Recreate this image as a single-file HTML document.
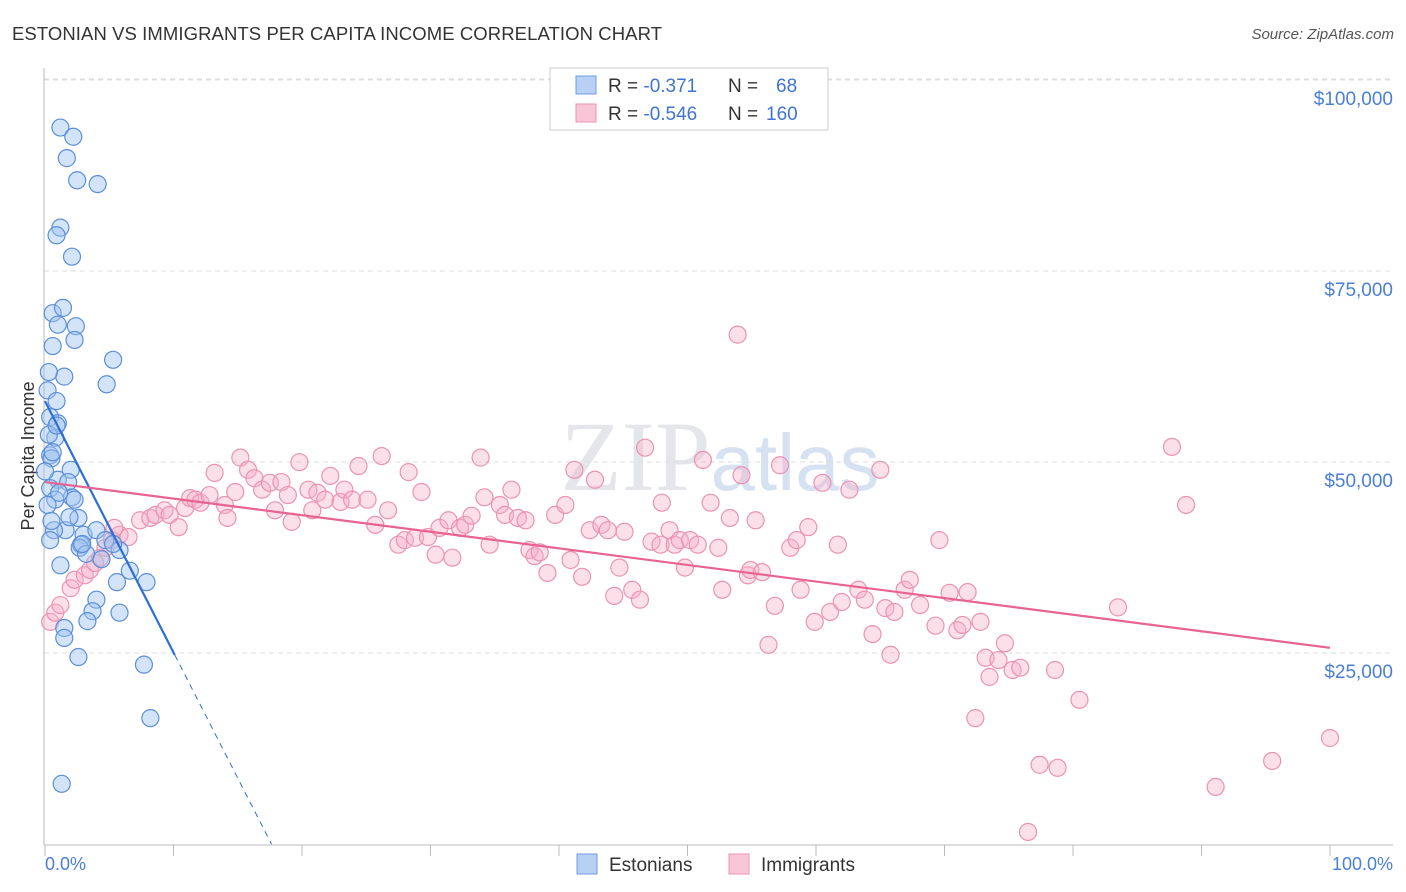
<!DOCTYPE html>
<html><head><meta charset="utf-8"><style>
body{margin:0;background:#fff;font-family:"Liberation Sans",sans-serif;}
#wrap{position:relative;width:1406px;height:892px;overflow:hidden;}
</style></head><body>
<div id="wrap">
<svg id="svg" width="1406" height="892" xmlns="http://www.w3.org/2000/svg">
<text x="12" y="40" font-size="18.5" fill="#333" textLength="650">ESTONIAN VS IMMIGRANTS PER CAPITA INCOME CORRELATION CHART</text>
<text x="1394" y="39" font-size="15" fill="#555" font-style="italic" text-anchor="end">Source: ZipAtlas.com</text>
<text x="720" y="490" font-size="100" fill="#e4e6ea" text-anchor="middle" font-family="Liberation Serif,serif">ZIP<tspan font-family="Liberation Sans,sans-serif" fill="#d6e2f2" font-size="80">atlas</tspan></text>
<g id="grid"></g>
<line x1="44" y1="68" x2="44" y2="845" stroke="#bbb"/>
<line x1="44" y1="845" x2="1393" y2="845" stroke="#bbb"/>
<g id="ticks"></g>
<text transform="translate(34,456) rotate(-90)" font-size="18" fill="#333" text-anchor="middle">Per Capita Income</text>
<text x="45" y="870" font-size="18" fill="#4a7fd6">0.0%</text>
<text x="1393" y="870" font-size="18" fill="#4a7fd6" text-anchor="end">100.0%</text>
<g id="pink"></g><g id="blue"></g><g id="lines"></g>
<g>
<rect x="550" y="68" width="278" height="62" fill="#fff" stroke="#ccc"/>
<rect x="576" y="76" width="20" height="18" fill="#b7d0f4" stroke="#6f9de0"/>
<rect x="576" y="104" width="20" height="18" fill="#f8c6d6" stroke="#ea96b4"/>
<text x="608" y="92" font-size="19" fill="#333">R = <tspan fill="#3f74d2">-0.371</tspan><tspan x="728">N = </tspan><tspan x="776" fill="#3f74d2">68</tspan></text>
<text x="608" y="120" font-size="19" fill="#333">R = <tspan fill="#3f74d2">-0.546</tspan><tspan x="728">N = </tspan><tspan x="766" fill="#3f74d2">160</tspan></text>
</g>
<g>
<rect x="577" y="854" width="20" height="20" fill="#b7d0f4" stroke="#6f9de0"/>
<text x="609" y="871" font-size="19" fill="#333">Estonians</text>
<rect x="729" y="854" width="20" height="20" fill="#f8c6d6" stroke="#ea96b4"/>
<text x="761" y="871" font-size="19" fill="#333">Immigrants</text>
</g>
</svg>
</div>
<script>
const yTicks=[25000,50000,75000,100000];
const yTickLabels=["$25,000","$50,000","$75,000","$100,000"];
const xTicks=[0,10,20,30,40,50,60,70,80,90,100];
const blueX=[1.2,2.2,1.7,2.5,4.1,1.2,0.9,2.1,0.6,1.4,1.0,2.4,2.3,0.6,5.3,4.8,1.5,0.2,0.9,0.4,1.0,0.8,0.4,0.5,2.0,1.0,1.8,0.4,0.8,2.1,2.3,2.6,1.6,0.7,3.0,2.8,4.0,2.7,4.7,5.8,5.3,1.2,5.6,7.9,6.6,4.0,3.7,5.8,3.3,1.5,1.5,2.6,7.7,8.2,1.3,0.2,0.4,0.0,0.3,0.6,1.1,0.5,1.9,3.2,0.3,0.9,2.9,4.4];
const blueY=[96.0,94.8,92.0,89.1,88.6,82.9,81.9,79.1,71.7,72.4,70.2,70.0,68.2,67.4,65.6,62.4,63.4,61.6,60.2,58.1,57.3,55.4,53.1,52.7,51.2,49.9,49.6,48.8,47.3,47.6,47.3,44.9,43.3,43.3,42.7,41.4,43.3,41.0,42.0,40.7,41.5,38.7,36.5,36.5,38.0,34.2,32.7,32.5,31.4,30.5,29.2,26.7,25.7,18.7,10.1,46.6,42.0,51.0,55.8,53.5,48.2,44.5,45.0,40.2,64.0,57.0,41.5,39.5];
const pinkX=[0.4,0.8,1.2,2.0,2.3,3.1,3.5,3.9,4.3,4.7,5.2,5.8,6.5,5.4,7.4,8.2,8.6,9.3,9.7,10.4,10.9,11.3,11.7,12.1,12.8,13.2,14.0,14.2,14.8,15.2,15.8,16.3,16.9,17.5,17.9,18.4,18.9,19.2,19.8,20.5,20.8,21.2,21.8,22.2,23.0,23.3,23.9,24.4,25.1,25.7,26.2,26.7,27.5,28.0,28.3,28.8,29.3,29.8,30.4,30.7,31.4,31.7,32.3,32.7,33.2,33.9,34.2,34.6,35.4,35.8,36.3,36.8,37.4,37.7,38.1,38.5,39.1,39.7,40.5,40.9,41.2,41.8,42.4,42.8,43.3,43.8,44.3,44.7,45.1,45.7,46.3,46.7,47.2,47.9,48.0,48.6,49.0,49.4,49.8,50.2,50.8,51.2,51.8,52.4,52.7,53.3,53.9,54.2,54.7,54.9,55.3,55.8,56.3,56.8,57.2,58.0,58.5,58.8,59.4,59.9,60.5,61.1,61.7,62.0,62.6,63.3,63.8,64.4,65.0,65.4,65.8,66.1,66.9,67.3,68.1,69.3,69.6,70.4,71.0,71.4,71.8,72.4,72.8,73.2,73.5,74.2,74.7,75.3,75.9,77.4,78.6,78.8,76.5,80.5,83.5,87.7,88.8,91.1,95.5,100];
const pinkY=[31.3,32.5,33.5,35.7,36.8,37.4,38.1,39.0,39.7,41.0,42.0,42.7,42.4,43.6,44.6,44.9,45.3,45.9,45.3,43.7,46.2,47.5,47.3,46.9,47.9,50.8,46.6,44.9,48.3,52.8,51.2,50.1,48.6,49.5,45.9,49.6,47.9,44.4,52.2,48.6,45.9,48.2,47.3,50.4,47.0,48.6,47.3,51.7,47.3,44.0,53.0,45.9,41.4,42.0,50.9,42.3,48.3,42.4,40.1,43.6,44.6,39.7,43.6,44.0,45.2,52.8,47.6,41.4,46.6,45.3,48.6,44.9,44.6,40.7,39.9,40.4,37.7,45.3,46.6,39.4,51.2,37.2,43.3,49.9,44.0,43.3,34.7,38.4,43.1,35.5,34.2,54.1,41.8,41.4,46.9,43.3,41.4,42.0,38.4,42.0,41.4,52.5,46.9,41.0,35.5,44.9,68.9,50.5,37.4,38.1,44.6,37.8,28.3,33.4,51.8,41.0,42.0,35.5,43.7,31.3,49.5,32.6,41.4,33.9,48.6,35.5,34.2,29.7,51.2,33.1,27.0,32.6,35.5,36.8,33.5,30.8,42.0,35.1,30.2,30.9,35.2,18.7,31.3,26.6,24.1,26.3,28.5,25.0,25.3,12.6,25.0,12.2,3.8,21.1,33.2,54.2,46.6,9.7,13.1,16.1];
const blueTrend=[60.2,-3.29];
const pinkTrend=[49.6,-0.217];
const NS="http://www.w3.org/2000/svg";
function X(p){return 45+p*12.85;}
function Y(k){return 861-k*7.64;}
function mk(tag,attrs,parent){const e=document.createElementNS(NS,tag);for(const k in attrs)e.setAttribute(k,attrs[k]);document.getElementById(parent).appendChild(e);return e;}
yTicks.forEach((t,i)=>{
 const y=Y(t/1000)-17;
 const l=mk('line',{x1:44,x2:1393,y1:y,y2:y,stroke:'#ddd','stroke-dasharray':'5,4'},'grid');
 
 
 const tx=mk('text',{x:1393,y:y+25,'font-size':19,fill:'#4a7fd6','text-anchor':'end'},'grid');
 tx.textContent=yTickLabels[i];
 
 
});
mk('line',{x1:44,x2:1393,y1:79,y2:79,stroke:'#ddd','stroke-dasharray':'5,4'},'grid');
xTicks.forEach(t=>{
 const l=mk('line',{x1:X(t),x2:X(t),y1:845,y2:856,stroke:'#bbb'},'ticks');
 
 
});
pinkX.forEach((x,i)=>{
 const c=mk('circle',{cx:X(x),cy:Y(pinkY[i]),r:8.5,fill:'rgba(246,176,200,0.4)',stroke:'#eb93b3','stroke-width':1.2},'pink');
 
 
});
blueX.forEach((x,i)=>{
 const c=mk('circle',{cx:X(x),cy:Y(blueY[i]),r:8.5,fill:'rgba(160,196,240,0.45)',stroke:'#5b8fd8','stroke-width':1.2},'blue');
 
 
});
const bl=mk('line',{x1:X(0),y1:Y(blueTrend[0]),x2:X(10.1),y2:Y(blueTrend[0]+blueTrend[1]*10.1),stroke:'#2d6fd6','stroke-width':2.2},'lines');


const xEnd=(blueTrend[0]-2.2)/-blueTrend[1];
const bd=mk('line',{x1:X(10.1),y1:Y(blueTrend[0]+blueTrend[1]*10.1),x2:X(xEnd),y2:Y(blueTrend[0]+blueTrend[1]*xEnd),stroke:'#2d6fd6','stroke-width':1,'stroke-dasharray':'6,5'},'lines');


const pl=mk('line',{x1:X(0),y1:Y(pinkTrend[0]),x2:X(100),y2:Y(pinkTrend[0]+pinkTrend[1]*100),stroke:'#e8638f','stroke-width':2.2},'lines');


</script>
</body></html>
